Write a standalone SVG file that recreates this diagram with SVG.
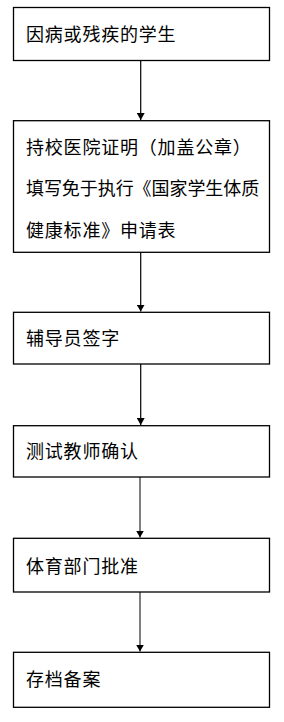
<svg xmlns="http://www.w3.org/2000/svg" width="284" height="722" viewBox="0 0 284 722">
<style>
.box{fill:#fff;stroke:#000;stroke-width:1.3}
.t{font-family:"Noto Sans CJK SC","Noto Sans",sans-serif;font-size:18px;letter-spacing:0.8px;fill:#000}
.c{stroke:#000;stroke-width:1.2;fill:none}
.g{stroke:#7f7f7f;stroke-width:2;fill:none}
</style>
<defs>
<marker id="ah" markerWidth="8" markerHeight="8" refX="7" refY="4" orient="auto" markerUnits="userSpaceOnUse" viewBox="0 0 8 8">
<path d="M0,0 L7,4 L0,8 Z" fill="#000"/>
</marker>
</defs>
<rect width="284" height="722" fill="#fff"/>
<g id="connectors">
<line class="c" x1="140.7" y1="60.5" x2="140.7" y2="120" marker-end="url(#ah)"/>
<line class="c" x1="140.7" y1="252.3" x2="140.7" y2="311.6" marker-end="url(#ah)"/>
<line class="c" x1="140.7" y1="364" x2="140.7" y2="425" marker-end="url(#ah)"/>
<line class="g" x1="140" y1="477" x2="140" y2="537.6" marker-end="url(#ah)"/>
<line class="g" x1="140" y1="592" x2="140" y2="651.6" marker-end="url(#ah)"/>
</g>
<g id="n1">
<rect class="box" x="13.5" y="7.5" width="256" height="53"/>
<text class="t" x="26" y="41">因病或残疾的学生</text>
</g>
<g id="n2">
<rect class="box" x="13.5" y="120.7" width="256" height="131.6"/>
<text class="t" x="26" y="154.3">持校医院证明（加盖公章）</text>
<text class="t" x="26" y="195.3" textLength="234" lengthAdjust="spacing">填写免于执行《国家学生体质</text>
<text class="t" x="26" y="236.5">健康标准》申请表</text>
</g>
<g id="n3">
<rect class="box" x="13.5" y="312.3" width="256" height="51.7"/>
<text class="t" x="26" y="345">辅导员签字</text>
</g>
<g id="n4">
<rect class="box" x="13.5" y="425.7" width="256" height="51.3"/>
<text class="t" x="26" y="458.3">测试教师确认</text>
</g>
<g id="n5">
<rect class="box" x="13.5" y="538.3" width="256" height="53.7"/>
<text class="t" x="26" y="572.7">体育部门批准</text>
</g>
<g id="n6">
<rect class="box" x="13.5" y="652.3" width="256" height="55"/>
<text class="t" x="26" y="686">存档备案</text>
</g>
</svg>
